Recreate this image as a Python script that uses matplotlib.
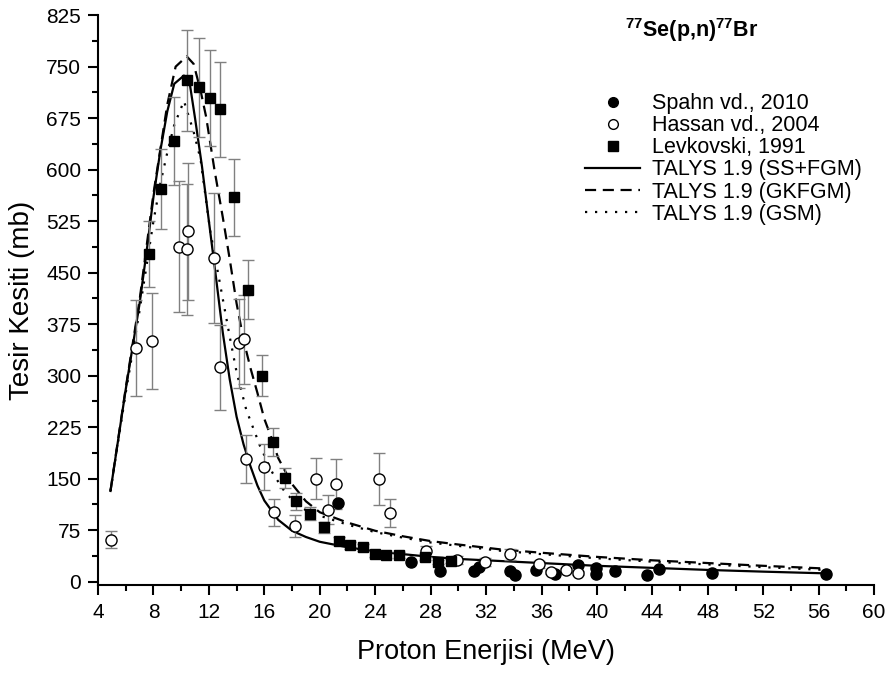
import matplotlib
matplotlib.use("Agg")
import matplotlib.pyplot as plt
from matplotlib.lines import Line2D
from matplotlib.ticker import MultipleLocator

plt.rcParams['font.family'] = ['Liberation Sans', 'DejaVu Sans']
plt.rcParams['mathtext.fontset'] = 'custom'
plt.rcParams['mathtext.rm'] = 'Liberation Sans'
plt.rcParams['mathtext.bf'] = 'Liberation Sans:bold'

# Spahn vd., 2010 (filled circles)
spahn_e = [21.3, 26.6, 28.7, 31.1, 31.5, 33.7, 34.1, 35.6, 37.0, 38.6, 39.9, 39.9,
           41.3, 43.6, 44.5, 48.3, 56.5]
spahn_s = [114, 29, 15, 16, 21, 16, 10, 17, 11, 24, 20, 11, 16, 9, 18, 13, 11]

# Hassan vd., 2004 (open circles)
hassan_e = [4.91, 6.74, 7.9, 9.84, 10.42, 10.5, 12.4, 12.8, 14.2, 14.5, 14.7, 16.0,
            16.7, 18.2, 19.7, 20.6, 21.2, 24.3, 25.1, 27.7, 29.9, 31.9, 33.7, 35.8,
            36.7, 37.8, 38.6]
hassan_s = [61, 340, 351, 488, 484, 510, 471, 312, 347, 353, 178, 167, 101, 81, 150,
            105, 142, 149, 100, 44, 31, 29, 40, 25, 14, 17, 13]
hassan_err = [12, 70, 70, 95, 95, 100, 95, 62, 65, 65, 35, 33, 20, 16, 30, 21, 36, 38,
              20, 8, 6, 6, 8, 5, 3, 3, 3]

# Levkovski, 1991 (filled squares)
levk_e = [7.68, 8.56, 9.5, 10.4, 11.3, 12.1, 12.8, 13.8, 14.8, 15.8, 16.6, 17.5, 18.3,
          19.3, 20.3, 21.4, 22.2, 23.1, 24.0, 24.8, 25.7, 27.6, 28.5, 29.5]
levk_s = [477, 572, 642, 730, 720, 704, 688, 560, 425, 300, 203, 151, 117, 99, 79, 59,
          53, 50, 40, 39, 39, 36, 28, 30]
levk_err = [48, 58, 64, 73, 72, 70, 69, 56, 43, 30, 20, 15, 12, 10, 8, 6, 5, 5, 4, 4,
            4, 4, 3, 3]

# TALYS 1.9 (SS+FGM)
ss_e = [4.9, 6, 7, 7.5, 8, 8.5, 9, 9.5, 10.2, 10.6, 11, 11.5, 12, 12.5, 13, 13.5, 14,
        14.5, 15, 15.5, 16, 17, 18, 19, 20, 22, 24, 26, 28, 30, 33, 36, 40, 44, 48, 52,
        56.5]
ss_s = [132, 280, 405, 480, 560, 628, 685, 725, 737, 728, 675, 605, 525, 445, 363, 295,
        240, 200, 168, 140, 118, 90, 74, 65, 58, 50, 44, 40, 36, 33, 30, 27, 23, 20, 17,
        14.5, 12]

# TALYS 1.9 (GKFGM)
gk_e = [4.9, 6, 7, 8, 9, 9.6, 10.4, 10.9, 11.4, 11.8, 12.4, 13, 13.5, 14, 14.5, 15,
        15.5, 16, 16.5, 17, 18, 19, 20, 22, 24, 26, 28, 30, 33, 36, 40, 44, 48, 52, 56.5]
gk_s = [132, 282, 410, 565, 695, 750, 765, 754, 715, 677, 600, 531, 470, 405, 352, 311,
        275, 237, 210, 180, 142, 117, 101, 86, 74, 66, 59, 54, 47, 42, 36, 31, 27, 23, 19]

# TALYS 1.9 (GSM)
gsm_e = [4.9, 6, 7, 8, 8.5, 9, 9.5, 10.2, 10.9, 11.4, 12.1, 12.8, 13.5, 14, 14.7, 15.7,
         16.6, 17.5, 18.5, 19, 20, 22, 24, 26, 28, 30, 33, 36, 40, 44, 48, 52, 56.5]
gsm_s = [132, 275, 395, 525, 580, 625, 665, 700, 655, 615, 510, 434, 357, 305, 250, 197,
         158, 130, 110, 104, 96, 83, 72, 64, 57, 52, 45, 40, 34, 29, 25, 21, 17]

fig = plt.figure(figsize=(8.87, 6.74), dpi=100)
ax = fig.add_axes([0.1105, 0.132, 0.875, 0.8455])

ax.plot(ss_e, ss_s, color='black', lw=1.6, ls='-')
ax.plot(gk_e, gk_s, color='black', lw=1.6, ls=(0, (5, 3)))
ax.plot(gsm_e, gsm_s, color='black', lw=1.6, ls=(0, (1, 3.5)))

ax.errorbar(hassan_e, hassan_s, yerr=hassan_err, fmt='o', mfc='white', mec='black',
            ms=8, mew=1.0, ecolor='#808080', elinewidth=1.0, capsize=4, capthick=1.0)
ax.errorbar(levk_e, levk_s, yerr=levk_err, fmt='s', mfc='black', mec='black',
            ms=7.5, ecolor='#808080', elinewidth=1.0, capsize=4, capthick=1.0)
ax.plot(spahn_e, spahn_s, 'o', color='black', ms=8)

ax.set_xlim(4, 60)
ax.set_ylim(-5, 825)
ax.xaxis.set_major_locator(MultipleLocator(4))
ax.xaxis.set_minor_locator(MultipleLocator(2))
ax.yaxis.set_major_locator(MultipleLocator(75))
ax.yaxis.set_minor_locator(MultipleLocator(37.5))
ax.spines['top'].set_visible(False)
ax.spines['right'].set_visible(False)
for s in ['left', 'bottom']:
    ax.spines[s].set_linewidth(1.5)
ax.tick_params(which='major', direction='out', length=7, width=1.5, labelsize=15)
ax.tick_params(which='minor', direction='out', length=4, width=1.5)
ax.tick_params(axis='y', pad=5)
ax.tick_params(axis='x', pad=6)

ax.set_xlabel('Proton Enerjisi (MeV)', fontsize=19.5, labelpad=12)
ax.set_ylabel('Tesir Kesiti (mb)', fontsize=20, labelpad=8)

ax.text(0.765, 0.998, r'$\mathbf{^{77}Se(p{,}n)^{77}Br}$', transform=ax.transAxes,
        ha='center', va='top', fontsize=15.5)

handles = [
    Line2D([], [], ls='none', marker='o', color='black', ms=7),
    Line2D([], [], ls='none', marker='o', mfc='white', mec='black', ms=7),
    Line2D([], [], ls='none', marker='s', color='black', ms=6.5),
    Line2D([], [], color='black', lw=1.6, ls='-'),
    Line2D([], [], color='black', lw=1.6, ls=(0, (5, 3))),
    Line2D([], [], color='black', lw=1.6, ls=(0, (1, 3.5))),
]
labels = ['Spahn vd., 2010', 'Hassan vd., 2004', 'Levkovski, 1991',
          'TALYS 1.9 (SS+FGM)', 'TALYS 1.9 (GKFGM)', 'TALYS 1.9 (GSM)']
ax.legend(handles, labels, loc='upper left', bbox_to_anchor=(0.6276, 0.863),
          frameon=False, fontsize=15.5, handlelength=2.55, handletextpad=0.55,
          labelspacing=0.05, borderaxespad=0, borderpad=0)

fig.savefig('out.png', dpi=100)
